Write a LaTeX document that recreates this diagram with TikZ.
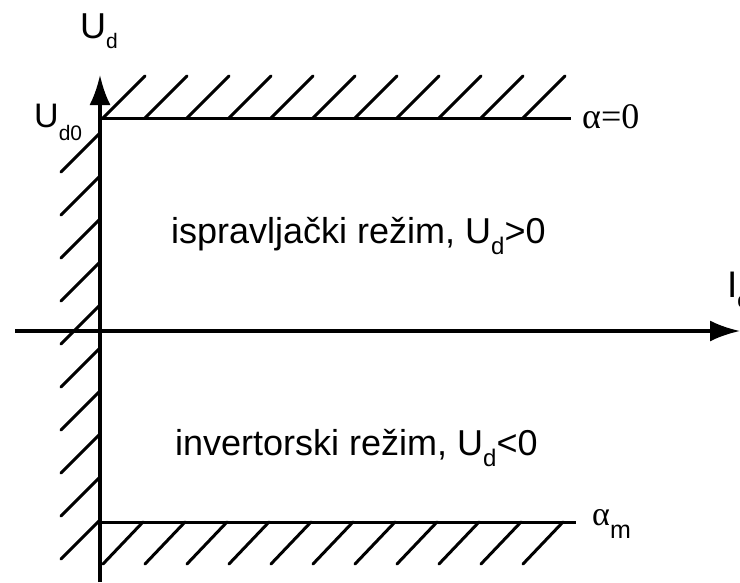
\documentclass[tikz,border=0pt]{standalone}
\usepackage{fontspec}
\setmainfont{Liberation Sans}
\newfontfamily\grserif{Liberation Serif}
\usetikzlibrary{arrows.meta}
\begin{document}
\begin{tikzpicture}[x=1pt,y=-1pt,
  axisline/.style={line width=3.2pt,-{Latex[length=30pt,width=21pt]}},
  limitline/.style={line width=3pt},
  hatchline/.style={line width=3pt,line cap=round},
  lbl/.style={inner sep=0pt,anchor=base west},
  big/.style={font=\fontsize{36}{40}\selectfont}]
\useasboundingbox (0,0) rectangle (740,582);
% axes
\coordinate (ybot) at (100,582);
\coordinate (ytop) at (100,75);
\coordinate (xleft) at (15,331);
\coordinate (xright) at (740,331);
\draw[axisline] (ybot) -- (ytop);
\draw[axisline] (xleft) -- (xright);
% limit lines
\coordinate (topL) at (100,118);
\coordinate (topR) at (571,118);
\coordinate (botL) at (100,522);
\coordinate (botR) at (576,522);
\draw[limitline] (topL) -- (topR);
\draw[limitline] (botL) -- (botR);
% hatching
\foreach \k in {0,...,10}{
  \draw[hatchline] ({103+42*\k},118) -- ({145+42*\k},76);
  \draw[hatchline] ({143+42*\k},522) -- ({103+42*\k},564);
}
\foreach \k in {0,...,9}{
  \draw[hatchline] (100,{133+43*\k}) -- (61,{172+43*\k});
}
% labels
\node[lbl,big] (ud) at (80,38) {U\raisebox{-10pt}{\fontsize{21}{21}\selectfont d}};
\node[lbl,font=\fontsize{34}{38}\selectfont] (ud0) at (34,127) {U\raisebox{-13pt}{\fontsize{21}{21}\selectfont d0}};
\node[lbl,font=\fontsize{37}{40}\selectfont] (id) at (727,297) {I\raisebox{-10pt}{\fontsize{21}{21}\selectfont d}};
\node[lbl,font=\grserif\fontsize{36}{40}\selectfont] (a0) at (582,128) {α=0};
\node[lbl] (am) at (592,525) {{\grserif\fontsize{34}{38}\selectfont α}\raisebox{-13pt}{\fontsize{25}{25}\selectfont m}};
\node[lbl,big] (rect) at (171,243) {ispravljački režim, U\raisebox{-11pt}{\fontsize{24}{24}\selectfont d}>0};
\node[lbl,big] (inv) at (175,455) {invertorski režim, U\raisebox{-11pt}{\fontsize{24}{24}\selectfont d}<0};
\end{tikzpicture}
\end{document}
